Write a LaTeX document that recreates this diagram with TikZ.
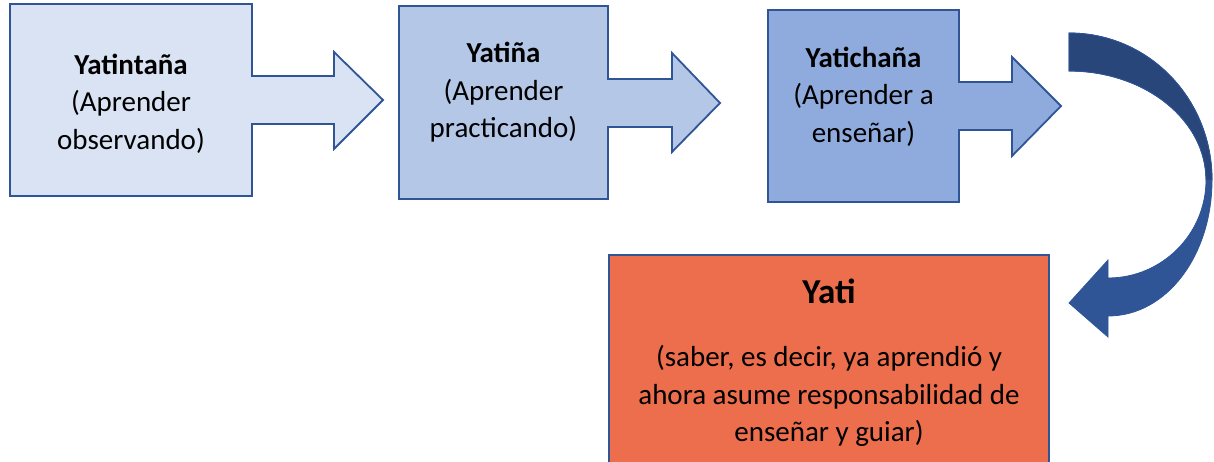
\documentclass[tikz,border=0pt]{standalone}
\usepackage{fontspec}
\setmainfont{Carlito}
\usepackage{xcolor}
\usepackage{tikz}

\definecolor{stageline}{HTML}{2F5597}
\definecolor{stageone}{HTML}{DAE3F3}
\definecolor{stagetwo}{HTML}{B4C7E7}
\definecolor{stagethree}{HTML}{8FAADC}
\definecolor{yatired}{HTML}{EC6E4C}
\definecolor{turndark}{HTML}{29467B}

\tikzset{
  stageshape/.style={draw=stageline, line width=1.8pt, line join=miter},
  stagetext/.style={align=center, font=\fontsize{29}{37.5}\selectfont},
}

\begin{document}
\begin{tikzpicture}[x=1pt, y=-1pt]
    \useasboundingbox (0,0) rectangle (1214,462);
    \clip (0,0) rectangle (1214,462);

    % Stage boxes with their block arrows
    \filldraw[stageshape, fill=stageone] (10,4) -- (252,4) -- (252,76) -- (334,76) -- (334,52)
      -- (383,100) -- (334,149) -- (334,124) -- (252,124) -- (252,196) -- (10,196) -- cycle;
    \filldraw[stageshape, fill=stagetwo] (399,6) -- (608,6) -- (608,79) -- (672,79) -- (672,53)
      -- (720,103) -- (672,152) -- (672,127) -- (608,127) -- (608,199) -- (399,199) -- cycle;
    \filldraw[stageshape, fill=stagethree] (768,10) -- (959,10) -- (959,82) -- (1012,82) -- (1012,57)
      -- (1061,106) -- (1012,156) -- (1012,130) -- (959,130) -- (959,202) -- (768,202) -- cycle;

    % Stage labels
    \node[stagetext] (observar) at (131,103.5) {\textbf{Yatintaña}\\(Aprender\\observando)};
    \node[stagetext] (practicar) at (503.5,92.5) {\textbf{Yatiña}\\(Aprender\\practicando)};
    \node[stagetext] (ensenar) at (863.5,96.5) {\textbf{Yatichaña}\\(Aprender a\\enseñar)};

    % Curved arrow down to Yati
    \filldraw[draw=stageline, line width=0.8pt, fill=stageline]
      (1069,33) .. controls (1149,33) and (1212,99) .. (1212,180)
      .. controls (1212,255) and (1167,316) .. (1108,316)
      -- (1108,337) -- (1069,303) -- (1108,260) -- (1108,278)
      .. controls (1162,278) and (1206,234) .. (1206,180)
      .. controls (1206,120) and (1145,71) .. (1069,71) -- cycle;
    \filldraw[draw=stageline, line width=0.8pt, fill=turndark]
      (1069,33) .. controls (1149,33) and (1212,99) .. (1212,180)
      -- (1206,180) .. controls (1206,120) and (1145,71) .. (1069,71) -- cycle;

    % Yati box
    \node[stageshape, fill=yatired, minimum width=440pt, minimum height=215pt] (yatibox) at (829,362.5) {};
    \node[font=\fontsize{35}{42}\selectfont\bfseries, anchor=base] (yati) at (829,303) {Yati};
    \node[stagetext] (yatidesc) at (829,396) {(saber, es decir, ya aprendió y\\ahora asume responsabilidad de\\enseñar y guiar)};
  \end{tikzpicture}
\end{document}
